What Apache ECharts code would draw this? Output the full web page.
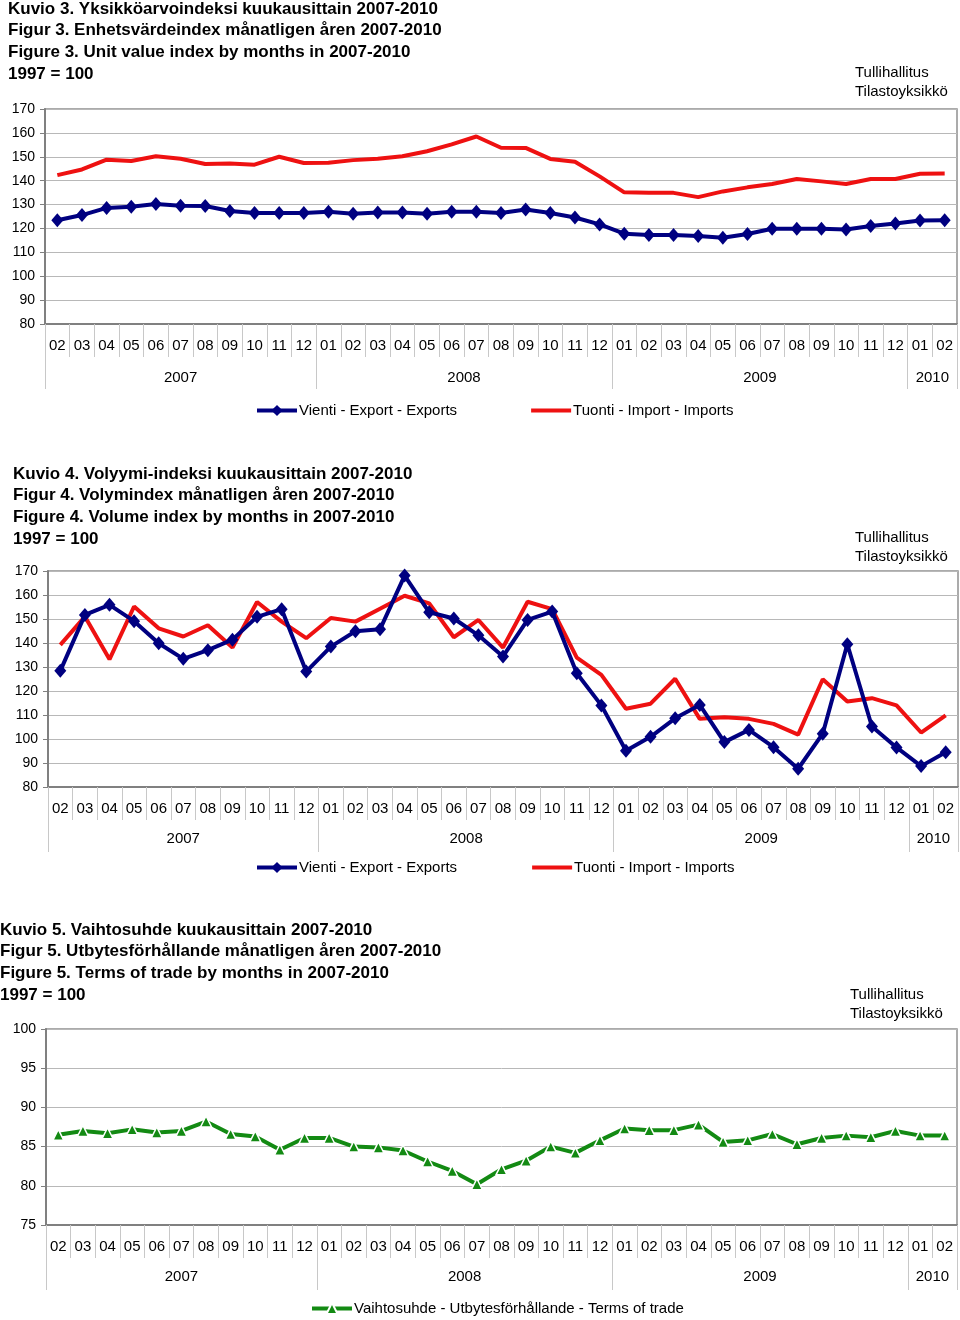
<!DOCTYPE html>
<html>
<head>
<meta charset="utf-8">
<script src="https://cdn.jsdelivr.net/npm/echarts@6/dist/echarts.min.js"></script>
<style>
html,body{margin:0;padding:0;background:#fff;}
#c{width:960px;height:1320px;}
</style>
</head>
<body>
<div id="c"></div>
<script>
// ---- data ----
const months = ['02','03','04','05','06','07','08','09','10','11','12',
  '01','02','03','04','05','06','07','08','09','10','11','12',
  '01','02','03','04','05','06','07','08','09','10','11','12',
  '01','02'];
const years = ['2007','2008','2009','2010'];
const yearSpans = [11,12,12,2];

const unitExports = [123.4,125.6,128.6,129.1,130.2,129.5,129.4,127.3,126.5,126.5,126.5,127.0,126.2,126.7,126.7,126.2,127.0,127.0,126.5,127.9,126.5,124.6,121.7,117.8,117.3,117.3,116.8,116.1,117.7,119.9,119.9,119.9,119.6,121.0,122.1,123.3,123.4];
const unitImports = [142.3,144.7,148.8,148.2,150.2,149.2,147.0,147.2,146.7,150.0,147.4,147.5,148.6,149.2,150.2,152.3,155.2,158.5,153.8,153.7,149.1,147.9,141.8,135.1,134.9,134.9,133.1,135.5,137.2,138.6,140.7,139.7,138.6,140.7,140.7,142.9,143.0];
const volExports = [128.4,151.7,155.9,149.1,139.9,133.4,137.0,141.4,150.9,154.1,128.1,138.5,144.9,145.7,168.1,152.8,150.2,143.2,134.4,149.6,153.1,127.4,114.0,95.1,100.9,108.6,114.2,98.7,103.8,96.6,87.6,102.2,139.5,105.2,96.5,88.7,94.5];
const volImports = [139.2,151.0,133.2,155.2,146.1,142.7,147.4,138.1,157.1,148.9,142.0,150.4,148.9,154.3,159.7,156.5,142.4,149.6,138.1,157.2,154.1,133.9,126.7,112.6,114.7,125.1,108.4,109.1,108.4,106.3,101.8,124.9,115.6,117.0,114.0,102.7,109.8];
const termsOfTrade = [86.5,87.0,86.7,87.2,86.8,87.0,88.2,86.6,86.3,84.6,86.1,86.1,85.0,84.9,84.5,83.1,81.9,80.2,82.1,83.2,85.0,84.2,85.8,87.3,87.1,87.1,87.8,85.6,85.8,86.6,85.3,86.1,86.4,86.2,87.0,86.4,86.4];

const titles1 = ['Kuvio 3. Yksikköarvoindeksi kuukausittain 2007-2010','Figur 3. Enhetsvärdeindex månatligen åren 2007-2010','Figure 3. Unit value index by months in 2007-2010','1997 = 100'];
const titles2 = ['Kuvio 4. Volyymi-indeksi kuukausittain 2007-2010','Figur 4. Volymindex månatligen åren 2007-2010','Figure 4. Volume index by months in 2007-2010','1997 = 100'];
const titles3 = ['Kuvio 5. Vaihtosuhde kuukausittain 2007-2010','Figur 5. Utbytesförhållande månatligen åren 2007-2010','Figure 5. Terms of trade by months in 2007-2010','1997 = 100'];
const sourceText = ['Tullihallitus','Tilastoyksikkö'];
const nameExports = 'Vienti - Export - Exports';
const nameImports = 'Tuonti - Import - Imports';
const nameTerms = 'Vaihtosuhde - Utbytesförhållande - Terms of trade';

// ---- build half-month year axis ----
const nHalf = months.length * 2 + 1;
const yearLabelAt = {};
const yearTickAt = new Set();
let s = 0;
years.forEach((y, i) => {
  yearTickAt.add(2 * s);
  yearLabelAt[2 * s + yearSpans[i]] = y;
  s += yearSpans[i];
});
yearTickAt.add(2 * s);
const halfSlots = [];
for (let k = 0; k < nHalf; k++) halfSlots.push(yearLabelAt[k] || '');

const FONT = 'Liberation Sans, Arial, sans-serif';
const AXIS_GRAY = '#808080';
const GRID_GRAY = '#b8b8b8';
const TICK_GRAY = '#c8c8c8';
const BLUE = '#000080';
const RED = '#ee1111';
const GREEN = '#138a13';

const grids = [], xAxes = [], yAxes = [], series = [], legends = [], titleComps = [];

function addChart(idx, g, yMin, yMax, yInt, yearTickLen, yearLabelMargin, lg, serList, titleLines, titlePos, srcPos) {
  grids.push({left: g.left, top: g.top, width: g.width, height: g.height, show: true, borderColor: '#909090', borderWidth: 1.5, containLabel: false});
  xAxes.push({
    gridIndex: idx, type: 'category', data: months, boundaryGap: true, position: 'bottom',
    axisLine: {show: true, lineStyle: {color: AXIS_GRAY, width: 2}},
    axisTick: {show: true, interval: 0, length: 33, lineStyle: {color: TICK_GRAY, width: 1}},
    axisLabel: {interval: 0, margin: 14, fontSize: 15, color: '#000', fontFamily: FONT},
    splitLine: {show: false}
  });
  xAxes.push({
    gridIndex: idx, type: 'category', data: halfSlots, boundaryGap: false, position: 'bottom',
    axisLine: {show: false},
    axisTick: {show: true, interval: (i) => yearTickAt.has(i), length: yearTickLen, lineStyle: {color: TICK_GRAY, width: 1}},
    axisLabel: {interval: (i) => !!yearLabelAt[i], margin: yearLabelMargin, fontSize: 15, color: '#000', fontFamily: FONT},
    splitLine: {show: false}
  });
  yAxes.push({
    gridIndex: idx, type: 'value', min: yMin, max: yMax, interval: yInt,
    axisLine: {show: true, lineStyle: {color: AXIS_GRAY, width: 2}},
    axisTick: {show: true, length: 5, lineStyle: {color: AXIS_GRAY}},
    axisLabel: {margin: 10, fontSize: 14, color: '#000', fontFamily: FONT},
    splitLine: {show: true, lineStyle: {color: GRID_GRAY, width: 1}}
  });
  serList.forEach(sr => {
    sr.xAxisIndex = idx * 2;
    sr.yAxisIndex = idx;
    series.push(sr);
  });
  legends.push({
    data: serList.map(sr => sr.symbol === 'none'
      ? {name: sr.name, itemStyle: {opacity: 0, borderWidth: 0}, lineStyle: {width: 4}}
      : {name: sr.name, lineStyle: {width: 4}}),
    left: lg.left, top: lg.top, itemWidth: 40, itemHeight: 14,
    itemGap: lg.gap, padding: 0, selectedMode: false,
    textStyle: {fontSize: 15, color: '#000', fontFamily: FONT, padding: [0, 0, 0, -3]}
  });
  titleComps.push({
    text: titleLines.join('\n'), left: titlePos.left, top: titlePos.top, padding: 0,
    textStyle: {fontSize: 17, fontWeight: 'bold', color: '#000', fontFamily: FONT, lineHeight: 21.8}
  });
  titleComps.push({
    text: sourceText.join('\n'), left: srcPos.left, top: srcPos.top, padding: 0,
    textStyle: {fontSize: 15, fontWeight: 'normal', color: '#000', fontFamily: FONT, lineHeight: 19.5}
  });
}

function blueLine(name, data) {
  return {name, type: 'line', data, symbol: 'diamond', symbolSize: [12, 14], showSymbol: true,
    lineStyle: {color: BLUE, width: 4}, itemStyle: {color: BLUE}, z: 3, animation: false};
}
function redLine(name, data) {
  return {name, type: 'line', data, symbol: 'none', showSymbol: false,
    lineStyle: {color: RED, width: 4}, itemStyle: {color: RED}, z: 2, animation: false};
}

addChart(0, {left: 45, top: 109, width: 912, height: 215}, 80, 170, 10, 65, 46,
  {left: 255, top: 403, gap: 72},
  [blueLine(nameExports, unitExports), redLine(nameImports, unitImports)],
  titles1, {left: 8, top: -2}, {left: 855, top: 63});

addChart(1, {left: 48, top: 571, width: 910, height: 216}, 80, 170, 10, 65, 44,
  {left: 255, top: 860, gap: 73},
  [blueLine(nameExports, volExports), redLine(nameImports, volImports)],
  titles2, {left: 13, top: 463}, {left: 855, top: 528});

addChart(2, {left: 46, top: 1029, width: 911, height: 196}, 75, 100, 5, 65, 44,
  {left: 310, top: 1301, gap: 60},
  [{name: nameTerms, type: 'line', data: termsOfTrade, symbol: 'triangle', symbolSize: 11,
    lineStyle: {color: GREEN, width: 4}, itemStyle: {color: GREEN, borderColor: '#fff', borderWidth: 1.5}, animation: false}],
  titles3, {left: 0, top: 919}, {left: 850, top: 985});

const chart = echarts.init(document.getElementById('c'), null, {renderer: 'canvas'});
chart.setOption({
  backgroundColor: '#fff',
  animation: false,
  textStyle: {fontFamily: FONT},
  title: titleComps,
  grid: grids,
  xAxis: xAxes,
  yAxis: yAxes,
  legend: legends,
  series: series
});
</script>
</body>
</html>
